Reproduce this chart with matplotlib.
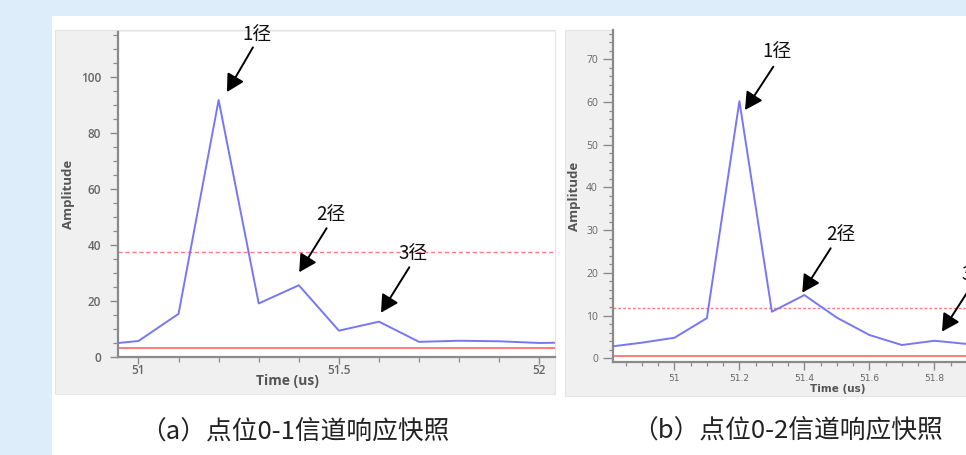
import matplotlib
matplotlib.use("Agg")
import matplotlib.pyplot as plt
from matplotlib.patches import Rectangle
from matplotlib.ticker import MultipleLocator
from matplotlib.transforms import offset_copy

CJK = ["Noto Sans CJK SC", "DejaVu Sans"]
UI = ["Open Sans", "DejaVu Sans"]
NARROW = ["Liberation Sans Narrow", "DejaVu Sans"]

# Snapshot (a): point 0-1 channel response
time_a = [50.9, 51.0, 51.1, 51.2, 51.3, 51.4, 51.5, 51.6, 51.7, 51.8, 51.9, 52.0, 52.1]
amp_a = [4.2, 5.6, 15.3, 91.6, 19.0, 25.5, 9.3, 12.5, 5.3, 5.7, 5.5, 4.9, 5.1]
threshold_a = 37.4
floor_a = 3.0
path_labels_a = ["1径", "2径", "3径"]
path_index_a = [3, 5, 7]
xticks_a = [51, 51.5, 52]
xticklabels_a = ["51", "51.5", "52"]
caption_a = "（a）点位0-1信道响应快照"

# Snapshot (b): point 0-2 channel response
time_b = [50.8, 50.9, 51.0, 51.1, 51.2, 51.3, 51.4, 51.5, 51.6, 51.7, 51.8, 51.9, 52.0, 52.1]
amp_b = [2.7, 3.65, 4.8, 9.4, 60.2, 10.9, 14.8, 9.5, 5.45, 3.1, 4.1, 3.35, 3.1, 3.0]
threshold_b = 11.7
floor_b = 0.54
path_labels_b = ["1径", "2径", "3径"]
path_index_b = [4, 6, 10]
xticks_b = [51.0, 51.2, 51.4, 51.6, 51.8]
xticklabels_b = ["51", "51.2", "51.4", "51.6", "51.8"]
caption_b = "（b）点位0-2信道响应快照"

W, H = 966, 455
fig = plt.figure(figsize=(W / 100, H / 100), dpi=100)


def fx(px):
    return px / W


def fy(py):
    return 1 - py / H


# slide background and white content area
fig.patches.append(Rectangle((0, 0), 1, 1, transform=fig.transFigure,
                             facecolor="#ddedf9", edgecolor="none", zorder=-10))
fig.patches.append(Rectangle((fx(52), 0), 1, fy(16), transform=fig.transFigure,
                             facecolor="white", edgecolor="none", zorder=-9))
# grey panel frames behind each plot
fig.patches.append(Rectangle((fx(55), fy(394)), fx(555 - 55), (394 - 30) / H,
                             transform=fig.transFigure, facecolor="#f0f0f0",
                             edgecolor="#e4e4e4", lw=0.8, zorder=-8))
fig.patches.append(Rectangle((fx(565), fy(396)), fx(1100 - 565), (396 - 30) / H,
                             transform=fig.transFigure, facecolor="#f0f0f0",
                             edgecolor="#e4e4e4", lw=0.8, zorder=-8))

LINE = "#7777f4"
RED = "#ff7b7b"
SPINE = "#8a8a8a"
TICKTXT = "#666666"

# ---------------- panel (a) ----------------
AX_A = (118, 555, 31.7, 356.7)  # left, right, top, bottom in pixels
ax_a = fig.add_axes([fx(AX_A[0]), fy(AX_A[3]), fx(AX_A[1] - AX_A[0]),
                     (AX_A[3] - AX_A[2]) / H])
ax_a.set_xlim(50.949, 52.039)
ax_a.set_ylim(0, 116)
ax_a.plot(time_a, amp_a, color=LINE, lw=1.4, zorder=3)
ax_a.axhline(threshold_a, color=RED, lw=1.0, ls=(0, (3, 2)), zorder=2)
ax_a.axhline(floor_a, color=RED, lw=1.4, zorder=2)

ax_a.set_xticks(xticks_a)
ax_a.set_xticklabels(xticklabels_a)
ax_a.xaxis.set_minor_locator(MultipleLocator(0.1))
ax_a.yaxis.set_minor_locator(MultipleLocator(5))
ax_a.set_yticks(range(0, 101, 20))

for s in ["top", "right"]:
    ax_a.spines[s].set_visible(False)
for s in ["left", "bottom"]:
    ax_a.spines[s].set_color(SPINE)
    ax_a.spines[s].set_linewidth(1.6)
ax_a.tick_params(axis="y", which="major", length=6, width=1.0, color=SPINE,
                 pad=6, labelsize=8.5, labelcolor=TICKTXT)
ax_a.tick_params(axis="x", which="major", length=5, width=1.0, color=SPINE,
                 pad=0.5, labelsize=8.5, labelcolor=TICKTXT)
ax_a.tick_params(which="minor", length=3.5, width=0.9, color=SPINE)
for lab in ax_a.get_xticklabels() + ax_a.get_yticklabels():
    lab.set_family(UI)
    lab.set_fontweight("semibold")
ax_a.set_xlabel("Time (us)", family=UI, fontweight="bold", fontsize=10,
                color="#555555")
ax_a.set_ylabel("Amplitude", family=UI, fontweight="bold", fontsize=9.5,
                color="#555555")
wa, ha = AX_A[1] - AX_A[0], AX_A[3] - AX_A[2]
ax_a.xaxis.set_label_coords((287.5 - AX_A[0]) / wa, -(374.5 - AX_A[3]) / ha)
ax_a.yaxis.set_label_coords(-(AX_A[0] - 75) / wa, 0.5)

# ---------------- panel (b) ----------------
AX_B = (613.3, 1014, 29.9, 362.1)
ax_b = fig.add_axes([fx(AX_B[0]), fy(AX_B[3]), fx(AX_B[1] - AX_B[0]),
                     (AX_B[3] - AX_B[2]) / H])
ax_b.set_xlim(50.812, 52.045)
ax_b.set_ylim(-0.9, 76.9)
ax_b.plot(time_b, amp_b, color=LINE, lw=1.4, zorder=3)
ax_b.axhline(threshold_b, color=RED, lw=1.0, ls=(0, (2, 1.5)), zorder=2)
ax_b.axhline(floor_b, color=RED, lw=1.4, zorder=2)

ax_b.set_xticks(xticks_b)
ax_b.set_xticklabels(xticklabels_b)
ax_b.xaxis.set_minor_locator(MultipleLocator(0.05))
ax_b.yaxis.set_minor_locator(MultipleLocator(2))
ax_b.set_yticks(range(0, 71, 10))

for s in ["top", "right"]:
    ax_b.spines[s].set_visible(False)
for s in ["left", "bottom"]:
    ax_b.spines[s].set_color(SPINE)
    ax_b.spines[s].set_linewidth(1.6)
ax_b.tick_params(axis="y", which="major", length=7, width=1.0, color=SPINE,
                 pad=4, labelsize=7.5, labelcolor=TICKTXT)
ax_b.tick_params(axis="x", which="major", length=6, width=1.0, color=SPINE,
                 pad=2.5, labelsize=6.5, labelcolor=TICKTXT)
ax_b.tick_params(which="minor", length=3, width=0.9, color=SPINE)
for lab in ax_b.get_yticklabels():
    lab.set_family(UI)
for lab in ax_b.get_xticklabels():
    lab.set_family(NARROW)
ax_b.set_xlabel("Time (us)", family=NARROW, fontweight="bold", fontsize=7.5,
                color="#555555")
ax_b.set_ylabel("Amplitude", family=UI, fontweight="bold", fontsize=9.5,
                color="#555555")
wb, hb = AX_B[1] - AX_B[0], AX_B[3] - AX_B[2]
ax_b.xaxis.set_label_coords((837.7 - AX_B[0]) / wb, -(384.5 - AX_B[3]) / hb)
ax_b.yaxis.set_label_coords(-(AX_B[0] - 581) / wb, 0.5)

# ---------------- path markers ----------------
ARROW = dict(arrowstyle="-|>,head_length=0.7,head_width=0.38", color="black",
             lw=1.4, shrinkA=0, shrinkB=0, mutation_scale=15)

# offsets in pixels relative to each path peak: arrow tip, tail (from tip), label
marks_a = [((8.3, 8.0), (26.0, 44.7), (38.0, 65.7)),
           ((0.4, 13.0), (27.4, 44.0), (32.0, 71.0)),
           ((2.0, 9.0), (28.3, 45.4), (33.7, 68.4))]
marks_b = [((5.6, -8.8), (28.3, 43.3), (37.3, 49.5)),
           ((-2.1, 2.4), (28.4, 44.4), (36.6, 60.1)),
           ((7.6, 9.1), (28.3, 44.0), (42.0, 66.0))]


def mark_paths(ax, times, amps, idxs, labels, marks):
    for i, lab, (tip, tail, txt) in zip(idxs, labels, marks):
        t, a = times[i], amps[i]
        tip_tr = offset_copy(ax.transData, fig=fig, x=tip[0], y=tip[1], units="dots")
        ax.annotate("", xy=(t, a), xycoords=tip_tr, xytext=tail,
                    textcoords="offset pixels", arrowprops=ARROW,
                    annotation_clip=False, zorder=5)
        ax.annotate(lab, xy=(t, a), xytext=txt, textcoords="offset pixels",
                    ha="center", va="center", family=CJK, fontsize=13.5,
                    color="#111111", annotation_clip=False, zorder=5)


mark_paths(ax_a, time_a, amp_a, path_index_a, path_labels_a, marks_a)
mark_paths(ax_b, time_b, amp_b, path_index_b, path_labels_b, marks_b)

# captions
fig.text(fx(295), fy(432), caption_a, family=CJK, fontsize=18.5, color="#222222",
         ha="center", va="center")
fig.text(fx(788), fy(431), caption_b, family=CJK, fontsize=18.5, color="#222222",
         ha="center", va="center")

fig.savefig("out.png", dpi=100)
